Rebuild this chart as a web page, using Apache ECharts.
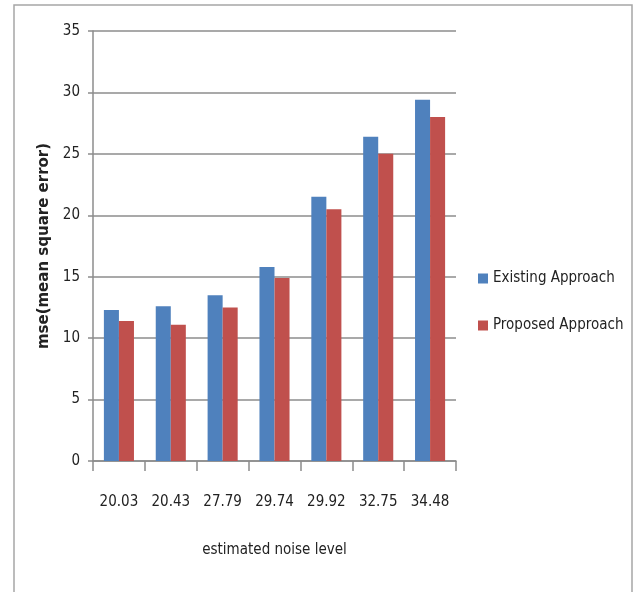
<!DOCTYPE html>
<html>
<head>
<meta charset="utf-8">
<script src="https://cdn.jsdelivr.net/npm/echarts@6/dist/echarts.min.js"></script>
<style>
  html, body { margin: 0; padding: 0; background: #fff; }
  #chart { width: 638px; height: 592px; }
</style>
</head>
<body>
<div id="chart"></div>
<script>
// Noise levels on the x axis and MSE for each approach
var noiseLevels = ['20.03', '20.43', '27.79', '29.74', '29.92', '32.75', '34.48'];
var existingMse = [12.3, 12.6, 13.5, 15.8, 21.5, 26.4, 29.4];
var proposedMse = [11.4, 11.1, 12.5, 14.9, 20.5, 25.0, 28.0];
var seriesNames = ['Existing Approach', 'Proposed Approach'];

var textFont = '"DejaVu Sans Condensed", "Liberation Sans Narrow", sans-serif';
var chart = echarts.init(document.getElementById('chart'), null, { renderer: 'canvas' });

chart.setOption({
  backgroundColor: '#ffffff',
  animation: false,
  graphic: [{
    type: 'rect',
    shape: { x: 14, y: 5, width: 618, height: 600 },
    style: { fill: 'none', stroke: '#a6a6a6', lineWidth: 1.5 },
    silent: true
  }],
  grid: { left: 93, right: 182, top: 31, bottom: 131 },
  legend: {
    orient: 'vertical',
    left: 478,
    top: 271,
    padding: 0,
    itemWidth: 10,
    itemHeight: 10,
    itemGap: 32,
    icon: 'rect',
    textStyle: { fontFamily: textFont, fontSize: 15, color: '#222' },
    data: seriesNames
  },
  xAxis: {
    type: 'category',
    data: noiseLevels,
    name: 'estimated noise level',
    nameLocation: 'middle',
    nameGap: 82,
    nameTextStyle: { fontFamily: textFont, fontSize: 15, color: '#222' },
    axisLine: { lineStyle: { color: '#8c8c8c', width: 1.5 } },
    axisTick: { show: true, length: 10, lineStyle: { color: '#8c8c8c', width: 1.5 } },
    axisLabel: { interval: 0, fontFamily: textFont, fontSize: 15, color: '#222', margin: 34 }
  },
  yAxis: {
    type: 'value',
    min: 0,
    max: 35,
    interval: 5,
    name: 'mse(mean square error)',
    nameLocation: 'middle',
    nameGap: 40,
    nameTextStyle: { fontFamily: '"DejaVu Sans", sans-serif', fontSize: 15, fontWeight: 'bold', color: '#222' },
    axisLine: { show: true, lineStyle: { color: '#8c8c8c', width: 1.5 } },
    axisTick: { show: true, length: 5, lineStyle: { color: '#8c8c8c', width: 1.5 } },
    splitLine: { lineStyle: { color: '#8c8c8c', width: 1.5 } },
    axisLabel: { fontFamily: textFont, fontSize: 15, color: '#222', margin: 13 }
  },
  series: [{
    name: seriesNames[0],
    type: 'bar',
    data: existingMse,
    barGap: '0%',
    barCategoryGap: '42%',
    itemStyle: { color: '#4f81bd' }
  }, {
    name: seriesNames[1],
    type: 'bar',
    data: proposedMse,
    barGap: '0%',
    barCategoryGap: '42%',
    itemStyle: { color: '#c0504d' }
  }]
});
</script>
</body>
</html>
